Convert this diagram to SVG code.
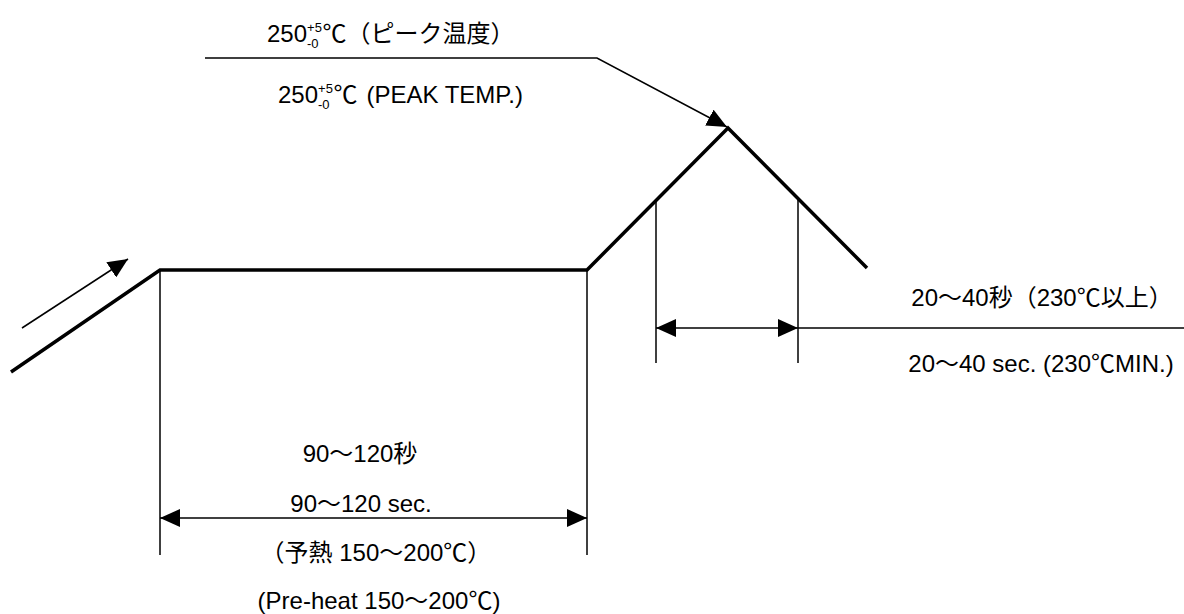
<svg xmlns="http://www.w3.org/2000/svg" width="1184" height="614" viewBox="0 0 1184 614">
<style>
.t{font-family:"Liberation Sans","Noto Sans CJK JP",sans-serif;font-size:24px;fill:#000}
.s{font-size:13px}
.thick{stroke:#000;stroke-width:3.5;fill:none;stroke-linejoin:miter}
.thin{stroke:#000;stroke-width:1.5;fill:none}
</style>
<defs>
<marker id="ah" viewBox="0 0 20 18" refX="20" refY="9" markerWidth="20" markerHeight="18" markerUnits="userSpaceOnUse" orient="auto-start-reverse">
<path d="M0,0 L20,9 L0,18 Z" fill="#000"/>
</marker>
</defs>
<rect width="1184" height="614" fill="#fff"/>
<g id="profile">
<polyline class="thick" points="11,372 160,270 587,270 728,128 867,268"/>
</g>
<g id="connectors">
<line class="thin" x1="22" y1="328" x2="128" y2="259" marker-end="url(#ah)"/>
<polyline class="thin" points="205,58 597,58 727,127" marker-end="url(#ah)"/>
<line class="thin" x1="160" y1="270" x2="160" y2="555"/>
<line class="thin" x1="587" y1="270" x2="587" y2="555"/>
<line class="thin" x1="160" y1="518" x2="587" y2="518" marker-start="url(#ah)" marker-end="url(#ah)"/>
<line class="thin" x1="656" y1="199" x2="656" y2="363"/>
<line class="thin" x1="798" y1="199" x2="798" y2="363"/>
<line class="thin" x1="656" y1="328" x2="798" y2="328" marker-start="url(#ah)" marker-end="url(#ah)"/>
<line class="thin" x1="798" y1="328" x2="1184" y2="328"/>
</g>
<g id="peak-labels">
<text class="t" x="267" y="42">250<tspan class="s" dy="-10">+5</tspan><tspan class="s" dx="-15" dy="16">-0</tspan><tspan dx="4" dy="-6">℃（ピーク温度）</tspan></text>
<text class="t" x="278" y="103">250<tspan class="s" dy="-10">+5</tspan><tspan class="s" dx="-15" dy="16">-0</tspan><tspan dx="4" dy="-6">℃</tspan><tspan dx="9">(PEAK TEMP.)</tspan></text>
</g>
<g id="reflow-labels">
<text class="t" x="1042" y="306" text-anchor="middle">20～40秒（230℃以上）</text>
<text class="t" x="1041" y="372" text-anchor="middle">20～40 sec. (230℃MIN.)</text>
</g>
<g id="preheat-labels">
<text class="t" x="360" y="462" text-anchor="middle">90～120秒</text>
<text class="t" x="361" y="512" text-anchor="middle">90～120 sec.</text>
<text class="t" x="376" y="561" text-anchor="middle">（予熱 150～200℃）</text>
<text class="t" x="379" y="609" text-anchor="middle" font-size="25">(Pre-heat 150～200℃)</text>
</g>
</svg>
